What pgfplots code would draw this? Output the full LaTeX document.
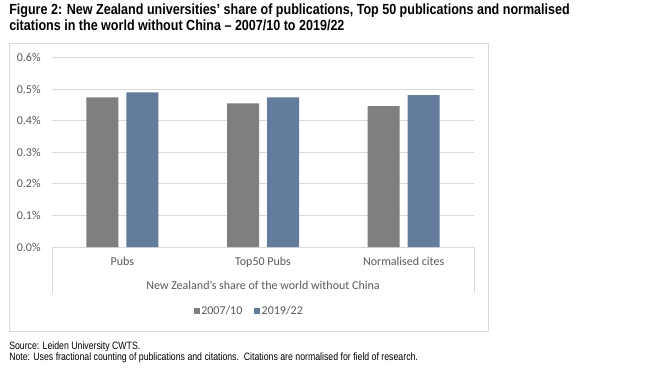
\documentclass[border=0pt]{standalone}
\usepackage{pgfplots}
\pgfplotsset{compat=1.18}
\usepackage{fontspec}
\setmainfont{Carlito}
\newfontfamily\narrow{Liberation Sans}[FakeStretch=0.82]
\newfontfamily\narrowt{Liberation Sans}[FakeStretch=0.855]
\definecolor{gridc}{HTML}{D9D9D9}
\definecolor{txt}{HTML}{595959}
\definecolor{cA}{HTML}{7F7F7F}
\definecolor{cB}{HTML}{637C9B}
\begin{document}
\begin{tikzpicture}[x=0.75pt,y=0.75pt]
\fill[white] (0,0) rectangle (648,-369);
\useasboundingbox (0,0) rectangle (648,-369);
\draw[gridc, line width=0.75pt] (9,-43) rectangle (488.5,-331);
\node[anchor=base west, inner sep=0, font=\narrowt\bfseries\fontsize{11}{13}\selectfont] at (9,-14) {Figure 2: New Zealand universities’ share of publications, Top 50 publications and normalised};
\node[anchor=base west, inner sep=0, font=\narrowt\bfseries\fontsize{11}{13}\selectfont] at (9,-30.5) {citations in the world without China – 2007/10 to 2019/22};
\node[anchor=base west, inner sep=0, font=\narrow\fontsize{8}{10}\selectfont] at (9,-349.5) {Source: Leiden University CWTS.};
\node[anchor=base west, inner sep=0, font=\narrow\fontsize{8}{10}\selectfont] at (9,-360.5) {Note: Uses fractional counting of publications and citations.\ \ Citations are normalised for field of research.};
\coordinate (O) at (52,-247);
\begin{axis}[
  at={(O)}, anchor=south west,
  scale only axis, width=316.5pt, height=142.05pt,
  xmin=-0.5, xmax=2.5, ymin=0, ymax=0.6,
  ybar=6pt, bar width=24pt,
  xtick={0,1,2}, xticklabels={Pubs,Top50 Pubs,Normalised cites},
  ytick={0,0.1,0.2,0.3,0.4,0.5,0.6},
  /pgf/number format/assume math mode=true,
  yticklabel={\pgfmathprintnumber[fixed,fixed zerofill,precision=1]{\tick}\%},
  major tick length=0pt,
  axis line style={draw=none},
  ymajorgrids, grid style={gridc, line width=0.75pt},
  tick label style={txt, font=\fontsize{9}{11}\selectfont},
  xticklabel style={yshift=-4pt},
  yticklabel style={xshift=-5pt},
  clip=false,
  legend image code/.code={\fill[#1] (0pt,-2.2pt) rectangle (4.5pt,2.2pt);},
  legend style={at={(0.467,-0.338)}, anchor=center, draw=none, fill=none,
    legend columns=2, font=\fontsize{9}{11}\selectfont, text=txt,
    nodes={inner sep=1pt},
    /tikz/every odd column/.style={column sep=0pt},
    /tikz/every even column/.style={column sep=8pt}},
]
\addplot[fill=cA, draw=none] coordinates {(0,0.474) (1,0.455) (2,0.446)};
\addplot[fill=cB, draw=none] coordinates {(0,0.490) (1,0.474) (2,0.481)};
\legend{2007/10,2019/22}
\draw[gridc, line width=0.75pt] (rel axis cs:0,0) -- ([yshift=-34.5pt]rel axis cs:0,0);
\draw[gridc, line width=0.75pt] (rel axis cs:1,0) -- ([yshift=-34.5pt]rel axis cs:1,0);
\node[txt, font=\fontsize{9}{11}\selectfont] at ([yshift=-28.5pt]rel axis cs:0.5,0) {New Zealand's share of the world without China};
\end{axis}
\end{tikzpicture}
\end{document}
